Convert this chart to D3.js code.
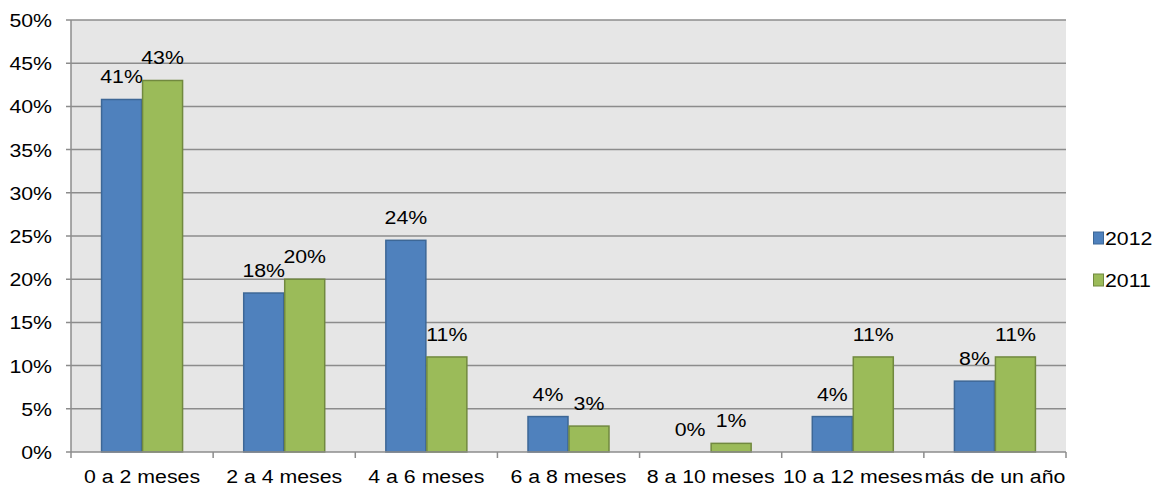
<!DOCTYPE html>
<html><head><meta charset="utf-8">
<script src="https://cdn.jsdelivr.net/npm/d3@7"></script>
<style>body{margin:0;background:#fff}svg{display:block}text{font-family:"Liberation Sans",Arial,sans-serif;fill:#000}</style>
</head><body><svg id="c" width="1158" height="486"></svg>
<script>
const categories = ["0 a 2 meses","2 a 4 meses","4 a 6 meses","6 a 8 meses","8 a 10 meses","10 a 12 meses","más de un año"];
const seriesNames = ["2012","2011"];
const values2012 = [40.8, 18.4, 24.5, 4.1, 0, 4.1, 8.2];
const values2011 = [43, 20, 11, 3, 1, 11, 11];
const labels2012 = ["41%","18%","24%","4%","0%","4%","8%"];
const labels2011 = ["43%","20%","11%","3%","1%","11%","11%"];
const yTicks = [0,5,10,15,20,25,30,35,40,45,50];
const colors = ["#4f81bd","#9bbb59"];
const strokes = ["#3d6796","#71893f"];

const svg = d3.select("#c");
const L=71, R=1066, T=20, B=452;
const x = d3.scaleBand().domain(categories).range([L,R]);
const y = d3.scaleLinear().domain([0,50]).range([B,T]);
const FS = 19.2, SX = 1.11;
function txt(g, tx, ty, s, anchor){
  return g.append("text").attr("transform",`translate(${tx},${ty}) scale(${SX},1)`)
    .attr("text-anchor",anchor).style("font-size",FS+"px").text(s);
}
svg.append("rect").attr("x",L).attr("y",T).attr("width",R-L).attr("height",B-T).attr("fill","#e6e6e6");
svg.append("g").selectAll("line").data(yTicks.filter(d=>d>0)).join("line")
  .attr("x1",L-5).attr("x2",R).attr("y1",d=>y(d)).attr("y2",d=>y(d))
  .attr("stroke","#8c8c8c").attr("stroke-width",1.5);
const bw = 41;
const grp = [values2012, values2011];
const lbl = [labels2012, labels2011];
grp.forEach((vals,si)=>{
  const g = svg.append("g");
  categories.forEach((c,i)=>{
    const cx = x(c)+x.bandwidth()/2;
    const bx = cx - bw + si*bw;
    if(vals[i]>0){
      g.append("rect").attr("x",bx+0.5).attr("y",y(vals[i])).attr("width",bw-1).attr("height",B-y(vals[i]))
        .attr("fill",colors[si]).attr("stroke",strokes[si]).attr("stroke-width",1.5);
    }
    txt(g, bx+bw/2, y(vals[i])-16, lbl[si][i], "middle");
  });
});
// axes
svg.append("line").attr("x1",L).attr("x2",L).attr("y1",T).attr("y2",B).attr("stroke","#8c8c8c").attr("stroke-width",1.5);
svg.append("line").attr("x1",L-5).attr("x2",R).attr("y1",B).attr("y2",B).attr("stroke","#8c8c8c").attr("stroke-width",1.5);
const bounds = categories.map(c=>x(c)).concat([R]);
svg.append("g").selectAll("line").data(bounds).join("line")
  .attr("x1",d=>d).attr("x2",d=>d).attr("y1",B).attr("y2",B+6).attr("stroke","#8c8c8c").attr("stroke-width",1.5);
const ya = svg.append("g");
yTicks.forEach(t=> txt(ya, 52, y(t)+7, t+"%", "end"));
const xa = svg.append("g");
categories.forEach(c=> txt(xa, x(c)+x.bandwidth()/2, 483, c, "middle"));
// legend
const lg = svg.append("g");
seriesNames.forEach((s,i)=>{
  const yy = 232 + i*42;
  lg.append("rect").attr("x",1093.5).attr("y",yy).attr("width",10).attr("height",12)
    .attr("fill",colors[i]).attr("stroke",strokes[i]).attr("stroke-width",1);
  txt(lg, 1105, yy+13, s, "start");
});
</script></body></html>
